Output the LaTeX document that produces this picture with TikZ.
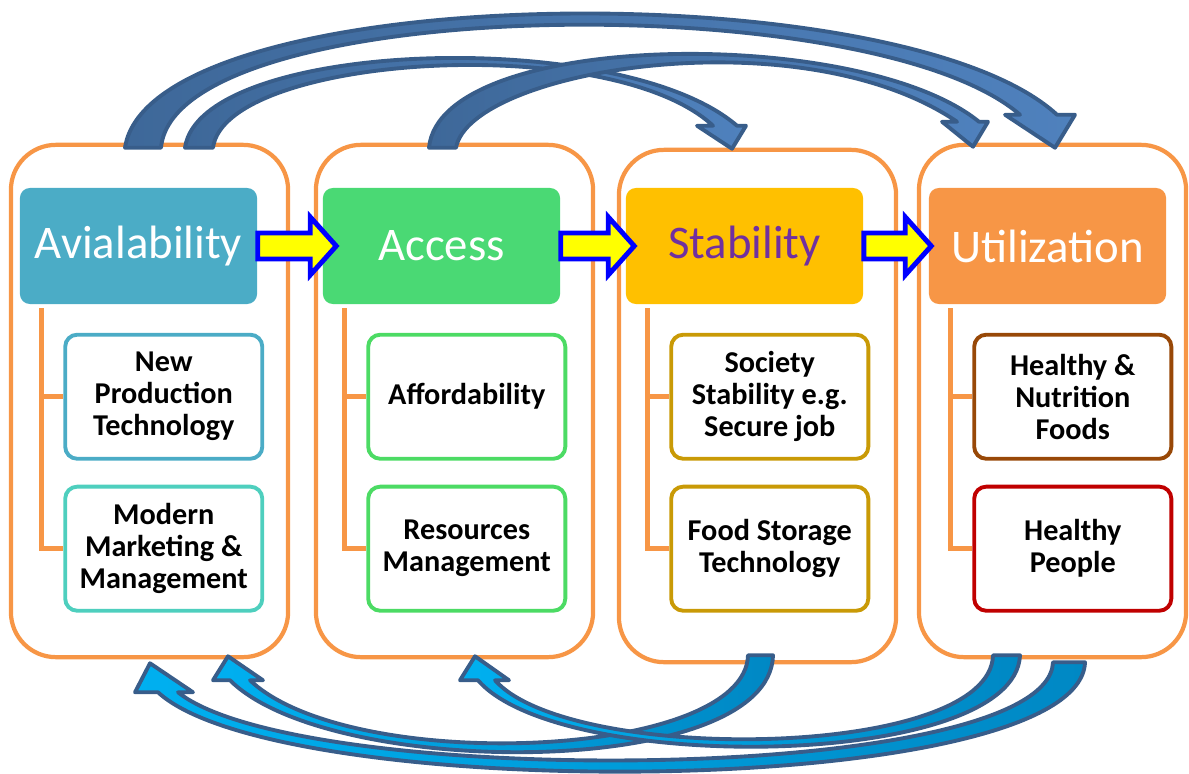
\documentclass[tikz,border=0pt]{standalone}
\usepackage{fontspec}
\setmainfont{Carlito}
\usetikzlibrary{positioning,calc}

\definecolor{frameorange}{HTML}{F79646}
\definecolor{availcol}{HTML}{4BACC6}
\definecolor{accesscol}{HTML}{4AD974}
\definecolor{stabcol}{HTML}{FFC000}
\definecolor{stabtext}{HTML}{7030A0}
\definecolor{utilcol}{HTML}{F79646}
\definecolor{turq}{HTML}{4ECFBE}
\definecolor{leafgreen}{HTML}{4CDB64}
\definecolor{gold}{HTML}{C99A06}
\definecolor{brown}{HTML}{984807}
\definecolor{darkred}{HTML}{C00000}
\definecolor{arrowyellow}{HTML}{FFFF00}
\definecolor{arrowblue}{HTML}{0000FF}
\definecolor{bandedge}{HTML}{385D8A}
\definecolor{topdark}{HTML}{3E6899}
\definecolor{toplight}{HTML}{4F81BD}
\definecolor{lowlight}{HTML}{00B0F0}
\definecolor{lowdark}{HTML}{0088C4}

\tikzset{
  container/.style={draw=frameorange, line width=1.2pt, rounded corners=0.45cm,
    minimum width=2.77cm, minimum height=5.12cm, inner sep=0pt},
  header/.style={rounded corners=0.1cm, minimum width=2.37cm, minimum height=1.16cm,
    text=white, font=\fontsize{13.3}{16}\selectfont, inner sep=0pt},
  subbox/.style={draw, line width=1.1pt, rounded corners=0.12cm, fill=white,
    minimum width=1.97cm, minimum height=1.24cm, align=center,
    font=\fontsize{8.6}{9.1}\selectfont\bfseries, inner sep=0pt},
  branch/.style={draw=frameorange, line width=1.3pt},
  yelarrow/.style={draw=arrowblue, fill=arrowyellow, line width=1.4pt},
  topband/.style={draw=bandedge, line width=1.1pt, line join=round,
    left color=topdark, right color=toplight},
  lowband/.style={draw=bandedge, line width=1.1pt, line join=round,
    left color=lowlight, right color=lowdark},
}

% block arrow from one header to the next: from, to, overshoot
\newcommand{\yellowarrow}[3]{%
  \draw[yelarrow] let \p1=(#1.east), \p2=(#2.west) in
    (\x1,\y1+0.13cm) -- (\x2+#3-0.26cm,\y1+0.13cm) -- (\x2+#3-0.26cm,\y1+0.29cm)
    -- (\x2+#3,\y1) -- (\x2+#3-0.26cm,\y1-0.29cm) -- (\x2+#3-0.26cm,\y1-0.13cm)
    -- (\x1,\y1-0.13cm) -- cycle;}

\begin{document}
\begin{tikzpicture}[x=0.01cm, y=-0.01cm]
\useasboundingbox (0,0) rectangle (1189,773);

% Columns
\node[container] (c1) at (149.5,401) {};
\node[container] (c2) at (454.5,401) {};
\node[container] (c3) at (757.5,406) {};
\node[container, minimum width=2.67cm] (c4) at (1052.5,401) {};

% Headers
\node[header, fill=availcol] (h1) at (138.5,246) {Avialability};
\node[header, fill=accesscol] (h2) at (441.5,246) {Access};
\node[header, fill=stabcol, text=stabtext] (h3) at (744.5,246) {Stability};
\node[header, fill=utilcol] (h4) at (1047.5,246) {Utilization};

% Sub boxes
\node[subbox, draw=availcol, below right=0.28cm and 0.44cm of h1.south west] (a1) {New\\Production\\Technology};
\node[subbox, draw=turq, below=0.24cm of a1] (b1) {Modern\\Marketing \&\\Management};
\node[subbox, draw=leafgreen, below right=0.28cm and 0.44cm of h2.south west] (a2) {Affordability};
\node[subbox, draw=leafgreen, below=0.24cm of a2] (b2) {Resources\\Management};
\node[subbox, draw=gold, below right=0.28cm and 0.44cm of h3.south west] (a3) {Society\\Stability e.g.\\Secure job};
\node[subbox, draw=gold, below=0.24cm of a3] (b3) {Food Storage\\Technology};
\node[subbox, draw=brown, below right=0.28cm and 0.44cm of h4.south west] (a4) {Healthy \&\\Nutrition\\Foods};
\node[subbox, draw=darkred, below=0.24cm of a4] (b4) {Healthy\\People};

% Tree lines
\foreach \i in {1,2,3,4} {
  \draw[branch] ([xshift=0.22cm, yshift=-1pt]h\i.south west) |- (a\i.west);
  \draw[branch] ([xshift=0.22cm, yshift=-1pt]h\i.south west) |- (b\i.west);
}

% Yellow arrows
\yellowarrow{h1}{h2}{0.14cm}
\yellowarrow{h2}{h3}{0.09cm}
\yellowarrow{h3}{h4}{0.03cm}

% Curved arrows on top
\coordinate (t1a) at ($(c1.north)+(-24.5,5)$);
\coordinate (t1b) at ($(c1.north)+(11.5,5)$);
\coordinate (t1h) at ($(c4.north)+(2.5,5)$);
\draw[topband] (t1a) .. controls (150,-20) and (900,-30) .. ($(t1h)+(2,-33)$)
  -- ($(t1h)+(20,-33)$) -- (t1h) -- ($(t1h)+(-50,-33)$) -- ($(t1h)+(-35,-33)$)
  .. controls (870,-15) and (175,-5) .. (t1b) -- cycle;

\coordinate (t2a) at ($(c1.north)+(35.5,5)$);
\coordinate (t2b) at ($(c1.north)+(63.5,5)$);
\coordinate (t2h) at ($(c3.north)+(-25.5,1)$);
\draw[topband] (t2a) .. controls (200,40) and (620,25) .. ($(t2h)+(5,-23)$)
  -- ($(t2h)+(14,-23)$) -- (t2h) -- ($(t2h)+(-35,-23)$) -- ($(t2h)+(-19,-23)$)
  .. controls (610,30) and (225,55) .. (t2b) -- cycle;

\coordinate (t3a) at ($(c2.north)+(-25.5,5)$);
\coordinate (t3b) at ($(c2.north)+(1.5,5)$);
\coordinate (t3h) at ($(c4.north)+(-79.5,4)$);
\draw[topband] (t3a) .. controls (440,30) and (860,25) .. ($(t3h)+(6,-25)$)
  -- ($(t3h)+(15,-25)$) -- (t3h) -- ($(t3h)+(-31,-25)$) -- ($(t3h)+(-16,-25)$)
  .. controls (800,15) and (470,70) .. (t3b) -- cycle;

% Curved arrows below
\coordinate (b1a) at ($(c3.south)+(15.5,-9)$);
\coordinate (b1b) at ($(c3.south)+(-9.5,-9)$);
\coordinate (b1h) at ($(c1.south)+(78.5,-3)$);
\draw[lowband] (b1a) .. controls (770,780) and (330,780) .. ($(b1h)+(2,24)$)
  -- ($(b1h)+(-15,24)$) -- (b1h) -- ($(b1h)+(35,24)$) -- ($(b1h)+(22,24)$)
  .. controls (350,775) and (745,760) .. (b1b) -- cycle;

\coordinate (b2a) at ($(c4.south)+(-32.5,-4)$);
\coordinate (b2b) at ($(c4.south)+(-59.5,-4)$);
\coordinate (b2h) at ($(c2.south)+(20.5,-3)$);
\draw[lowband] (b2a) .. controls (1015,770) and (560,775) .. ($(b2h)+(3,24)$)
  -- ($(b2h)+(-15,24)$) -- (b2h) -- ($(b2h)+(34,24)$) -- ($(b2h)+(20,24)$)
  .. controls (570,765) and (990,760) .. (b2b) -- cycle;

\coordinate (b3a) at ($(c4.south)+(32.5,3)$);
\coordinate (b3b) at ($(c4.south)+(0.5,3)$);
\coordinate (b3h) at ($(c1.south)+(0.5,4)$);
\draw[lowband] (b3a) .. controls (1080,800) and (280,805) .. ($(b3h)+(8,29)$)
  -- ($(b3h)+(-15,29)$) -- (b3h) -- ($(b3h)+(43,29)$) -- ($(b3h)+(28,29)$)
  .. controls (300,790) and (1048,785) .. (b3b) -- cycle;
\end{tikzpicture}
\end{document}
